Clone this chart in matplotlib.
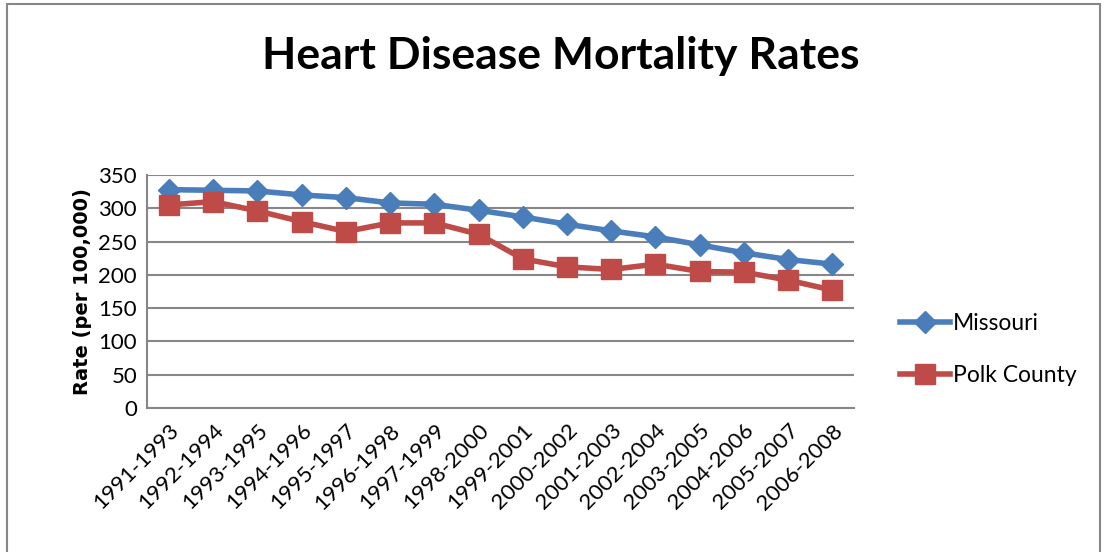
import matplotlib
matplotlib.use("Agg")
import matplotlib.pyplot as plt
from matplotlib.patches import Rectangle

periods = ["1991-1993", "1992-1994", "1993-1995", "1994-1996", "1995-1997",
           "1996-1998", "1997-1999", "1998-2000", "1999-2001", "2000-2002",
           "2001-2003", "2002-2004", "2003-2005", "2004-2006", "2005-2007",
           "2006-2008"]
missouri = [328, 327, 326, 320, 316, 308, 306, 297, 287, 276, 266, 257, 245, 233, 223, 216]
polk = [305, 310, 296, 280, 265, 278, 278, 261, 224, 212, 208, 216, 205, 204, 192, 177]
yticks = [0, 50, 100, 150, 200, 250, 300, 350]

plt.rcParams['font.family'] = ['Lato', 'DejaVu Sans']

fig = plt.figure(figsize=(11.04, 5.52), dpi=100)
ax = fig.add_axes([0.133, 0.261, 0.641, 0.422])

x = range(len(periods))
ax.plot(x, missouri, color='#4A7EBB', lw=4, marker='D', ms=11, label='Missouri')
ax.plot(x, polk, color='#BE4B48', lw=4, marker='s', ms=14, label='Polk County')

ax.set_xlim(-0.5, len(periods) - 0.5)
ax.set_ylim(0, 350)
ax.set_yticks(yticks)
ax.set_xticks(list(x))
ax.set_xticklabels(periods, rotation=45, ha='right', rotation_mode='anchor', fontsize=16)
ax.tick_params(axis='y', labelsize=16, length=0, pad=7)
ax.tick_params(axis='x', length=0, pad=9)
ax.grid(axis='y', color='#878787', lw=1.5)
ax.set_axisbelow(True)
for s in ['top', 'right']:
    ax.spines[s].set_visible(False)
for s in ['left', 'bottom']:
    ax.spines[s].set_color('#878787')
    ax.spines[s].set_linewidth(1.5)

ax.set_ylabel('Rate (per 100,000)', fontsize=14, fontweight='bold',
              family='DejaVu Sans', labelpad=5)

fig.suptitle('Heart Disease Mortality Rates', fontsize=32, fontweight='bold', x=0.508, y=0.935)

ax.legend(loc='center left', bbox_to_anchor=(1.035, 0.25), frameon=False,
          fontsize=16.5, handlelength=2.2, labelspacing=1.35, handletextpad=0.1)

fig.patches.append(Rectangle((0.0065, -0.05), 0.99, 1.043, transform=fig.transFigure,
                             fill=False, edgecolor='#878787', lw=1.5))

fig.savefig('out.png', dpi=100)
